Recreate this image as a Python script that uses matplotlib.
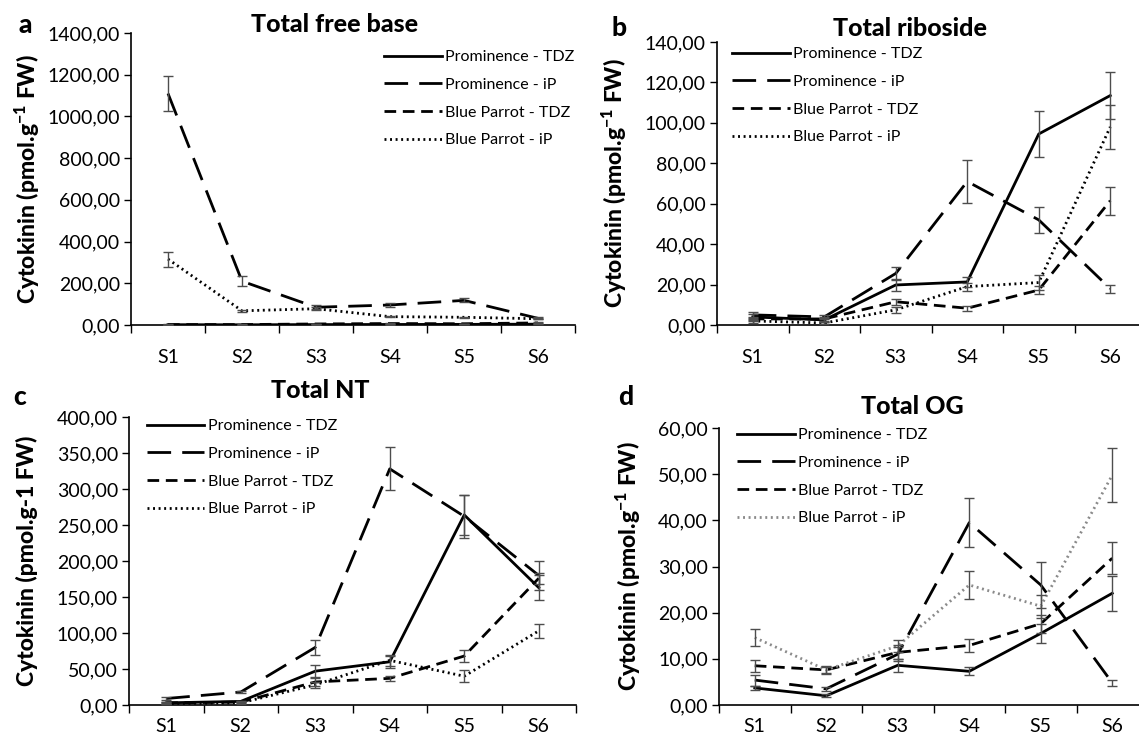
import matplotlib.pyplot as plt
from matplotlib.ticker import FixedLocator, FuncFormatter, MultipleLocator

plt.rcParams['font.family'] = ['Lato', 'DejaVu Sans']
plt.rcParams['mathtext.fontset'] = 'custom'
plt.rcParams['mathtext.rm'] = 'Lato'
plt.rcParams['mathtext.bf'] = 'Lato:black'

# categories
stages = ['S1', 'S2', 'S3', 'S4', 'S5', 'S6']
series = ['Prominence - TDZ', 'Prominence - iP', 'Blue Parrot - TDZ', 'Blue Parrot - iP']

# a - total free base
fb_prom_tdz = [1.5, 1.0, 2.0, 2.5, 3.0, 4.0]
fb_prom_tdz_err = [0.5, 0.5, 0.5, 0.5, 0.5, 0.5]
fb_prom_ip = [1110, 210, 85, 96, 118, 32]
fb_prom_ip_err = [85, 25, 10, 8, 10, 4]
fb_bp_tdz = [2, 2, 5, 7, 6, 10]
fb_bp_tdz_err = [1, 1, 1, 1, 1, 2]
fb_bp_ip = [316, 68, 78, 40, 37, 30]
fb_bp_ip_err = [36, 6, 8, 4, 3, 3]

# b - total riboside
rb_prom_tdz = [4.0, 2.5, 19.8, 21.3, 94.5, 113.5]
rb_prom_tdz_err = [1.5, 1.0, 3.0, 2.5, 11.5, 11.5]
rb_prom_ip = [5.0, 4.0, 25.5, 71.0, 52.0, 18.0]
rb_prom_ip_err = [1.5, 1.0, 3.0, 10.5, 6.5, 2.0]
rb_bp_tdz = [3.0, 3.0, 11.5, 8.3, 17.3, 61.5]
rb_bp_tdz_err = [1.0, 1.0, 1.5, 1.2, 2.0, 7.0]
rb_bp_ip = [2.0, 1.0, 7.5, 19.0, 21.0, 98.0]
rb_bp_ip_err = [1.0, 0.5, 1.5, 2.0, 3.5, 11.0]

# c - total NT
nt_prom_tdz = [3, 5, 47, 60, 264, 163]
nt_prom_tdz_err = [1, 1, 8, 8, 28, 17]
nt_prom_ip = [9, 18, 80, 328, 262, 180]
nt_prom_ip_err = [2, 2, 10, 30, 30, 20]
nt_bp_tdz = [3, 4, 32, 37, 68, 176]
nt_bp_tdz_err = [1, 1, 5, 3, 8, 8]
nt_bp_ip = [2, 3, 28, 62, 40, 103]
nt_bp_ip_err = [1, 1, 4, 8, 8, 10]

# d - total OG
og_prom_tdz = [3.7, 2.0, 8.6, 7.3, 15.5, 24.2]
og_prom_tdz_err = [0.4, 0.3, 1.4, 0.9, 2.0, 3.8]
og_prom_ip = [5.4, 3.5, 11.0, 39.5, 26.0, 4.8]
og_prom_ip_err = [1.2, 0.5, 1.5, 5.3, 5.0, 0.6]
og_bp_tdz = [8.5, 7.6, 11.4, 12.9, 17.6, 31.8]
og_bp_tdz_err = [1.3, 0.8, 1.5, 1.5, 2.0, 3.5]
og_bp_ip = [14.6, 7.6, 12.8, 26.0, 21.4, 49.8]
og_bp_ip_err = [1.8, 0.6, 1.3, 3.0, 2.5, 5.8]

W, H = 1139, 735
fig = plt.figure(figsize=(W / 100, H / 100), dpi=100)

styles = [
    dict(color='black', linestyle='-'),
    dict(color='black', linestyle=(0, (8.5, 4))),
    dict(color='black', linestyle=(0, (4.2, 2.4))),
    dict(color='black', linestyle=(0, (0.7, 1.3))),
]

def panel(box, data, errs, ymax, ystep, ylab, ylab_x, xpad, leg_xy, ip_color='black'):
    left, top, right, bottom = box
    ax = fig.add_axes([left / W, 1 - bottom / H, (right - left) / W, (bottom - top) / H])
    x = list(range(len(stages)))
    for k, (vals, err) in enumerate(zip(data, errs)):
        st = dict(styles[k])
        if k == 3:
            st['color'] = ip_color
        ax.plot(x, vals, lw=2, label=series[k], zorder=2, **st)
        ax.errorbar(x, vals, yerr=err, fmt='none', ecolor='#4d4d4d', elinewidth=1,
                    capsize=3.5, capthick=1, zorder=3)
    ax.set_xlim(-0.5, 5.5)
    ax.set_ylim(0, ymax)
    ax.yaxis.set_major_locator(MultipleLocator(ystep))
    ax.yaxis.set_major_formatter(FuncFormatter(lambda v, p: f'{v:.2f}'.replace('.', ',')))
    ax.xaxis.set_major_locator(FixedLocator([i + 0.5 for i in range(-1, 6)]))
    ax.xaxis.set_major_formatter(FuncFormatter(lambda v, p: ''))
    ax.xaxis.set_minor_locator(FixedLocator(x))
    ax.set_xticklabels(stages, minor=True)
    ax.tick_params(axis='x', which='minor', length=0, pad=xpad, labelsize=14)
    ax.tick_params(axis='x', which='major', length=6, width=1, direction='out')
    ax.tick_params(axis='y', length=5, width=1, direction='out', labelsize=14, pad=3)
    for s in ['top', 'right']:
        ax.spines[s].set_visible(False)
    for s in ['left', 'bottom']:
        ax.spines[s].set_linewidth(1.2)
    ax.set_ylabel(ylab, fontsize=16.5, fontweight='black')
    ax.yaxis.set_label_coords((ylab_x - left) / (right - left), 0.5)
    ax.yaxis.label.set_va('center')
    ax.legend(loc='upper left', bbox_to_anchor=(leg_xy[0] / W, 1 - leg_xy[1] / H),
              bbox_transform=fig.transFigure, frameon=False, fontsize=11.5,
              handlelength=3.6, handletextpad=0.25, labelspacing=0.85,
              borderpad=0, borderaxespad=0)
    return ax

ylab_sup = 'Cytokinin (pmol.g$^{\\mathbf{-1}}$ FW)'

ax_a = panel((131, 33, 575, 325), [fb_prom_tdz, fb_prom_ip, fb_bp_tdz, fb_bp_ip],
             [fb_prom_tdz_err, fb_prom_ip_err, fb_bp_tdz_err, fb_bp_ip_err],
             1400, 200, ylab_sup, 27, 17, (384, 50))

ax_b = panel((717, 42, 1146, 325), [rb_prom_tdz, rb_prom_ip, rb_bp_tdz, rb_bp_ip],
             [rb_prom_tdz_err, rb_prom_ip_err, rb_bp_tdz_err, rb_bp_ip_err],
             140, 20, ylab_sup, 614, 17, (732, 47))

ax_c = panel((129, 417, 576, 705), [nt_prom_tdz, nt_prom_ip, nt_bp_tdz, nt_bp_ip],
             [nt_prom_tdz_err, nt_prom_ip_err, nt_bp_tdz_err, nt_bp_ip_err],
             400, 50, 'Cytokinin (pmol.g-1 FW)', 27, 9, (147, 419))

ax_d = panel((719, 428, 1148, 705), [og_prom_tdz, og_prom_ip, og_bp_tdz, og_bp_ip],
             [og_prom_tdz_err, og_prom_ip_err, og_bp_tdz_err, og_bp_ip_err],
             60, 10, ylab_sup, 628, 9, (737, 428), ip_color='#8a8a8a')

# titles and panel letters
titles = ['Total free base', 'Total riboside', 'Total NT', 'Total OG']
title_xy = [(335, 25), (910, 28), (320, 390), (912, 407)]
for t, (tx, ty) in zip(titles, title_xy):
    fig.text(tx / W, 1 - ty / H, t, fontsize=18, fontweight='black', ha='center', va='center')
for letter, (lx, ly) in zip('abcd', [(25, 25), (619, 28), (20, 397), (626, 397)]):
    fig.text(lx / W, 1 - ly / H, letter, fontsize=19, fontweight='black', ha='center', va='center')

fig.savefig('out.png', dpi=100)
